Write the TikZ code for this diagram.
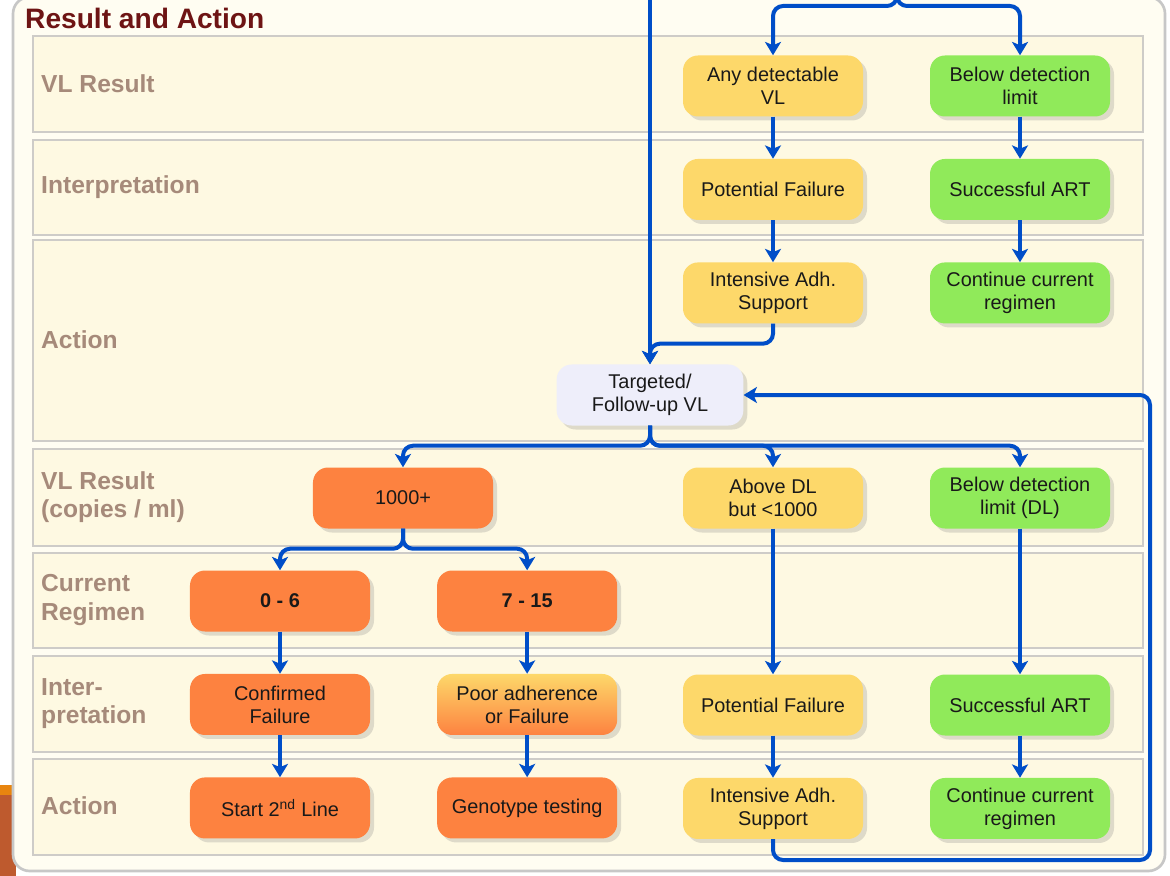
\documentclass[tikz,border=0pt]{standalone}
\usepackage{fontspec}
\setmainfont{Liberation Sans}
\usepackage{xcolor}
\usetikzlibrary{arrows.meta, positioning, shadows}

\definecolor{panelbg}{RGB}{255,253,242}
\definecolor{bandbg}{RGB}{254,249,226}
\definecolor{bandline}{RGB}{206,204,200}
\definecolor{titlered}{RGB}{110,20,20}
\definecolor{labelbrown}{RGB}{166,138,122}
\definecolor{flowblue}{RGB}{0,78,200}
\definecolor{boxyellow}{RGB}{253,216,106}
\definecolor{boxgreen}{RGB}{144,234,90}
\definecolor{boxorange}{RGB}{253,130,64}
\definecolor{boxlilac}{RGB}{238,238,250}
\definecolor{slideorange}{RGB}{232,133,15}
\definecolor{slidebrown}{RGB}{190,90,46}

\begin{document}
\begin{tikzpicture}[
    x=0.03cm, y=-0.03cm,
    node distance=1.26cm and 2cm,
    box/.style={rectangle, rounded corners=0.45cm, minimum width=5.4cm, minimum height=1.83cm, align=center, text=black!90, font=\fontsize{17}{19.5}\selectfont, drop shadow={opacity=0.25, shadow xshift=0.12cm, shadow yshift=-0.12cm}},
    warnbox/.style={box, fill=boxyellow},
    okbox/.style={box, fill=boxgreen},
    failbox/.style={box, fill=boxorange},
    mixbox/.style={box, top color=boxyellow, middle color=boxyellow!80!boxorange, bottom color=boxorange},
    querybox/.style={box, fill=boxlilac, minimum width=5.6cm},
    band/.style={draw=bandline, line width=0.05cm, fill=bandbg},
    rowlabel/.style={anchor=west, inner sep=0pt, align=left, text=labelbrown, font=\fontsize{21}{24}\selectfont\bfseries},
    line/.style={draw=flowblue, line width=0.12cm, rounded corners=0.3cm, -{Stealth[length=0.4cm, width=0.48cm, inset=0.1cm]}}
]
    \useasboundingbox (0,0) rectangle (1170,876);
    \clip (0,0) rectangle (1170,876);

    % slide background and panel
    \fill[slideorange] (0,785) rectangle (16,795);
    \fill[slidebrown] (0,795) rectangle (16,876);
    \draw[draw=black!22, line width=0.08cm, fill=panelbg, rounded corners=0.5cm] (13,-3) rectangle (1165,871);

    % bands
    \foreach \top/\bot in {36/132, 140/235, 240/441, 449/546, 553/648, 656/752, 759/855}
        \draw[band] (33,\top) rectangle (1143,\bot);

    \node[anchor=base west, inner sep=0pt, text=titlered, font=\fontsize{24}{28}\selectfont\bfseries] (title) at (25,29) {Result and Action};

    \node[rowlabel] (lbl_result) at (41,84) {VL Result};
    \node[rowlabel] (lbl_interp) at (41,187) {Interpretation};
    \node[rowlabel] (lbl_action) at (41,340) {Action};
    \node[rowlabel] (lbl_result_b) at (41,497) {VL Result\\(copies / ml)};
    \node[rowlabel] (lbl_regimen) at (41,600) {Current\\Regimen};
    \node[rowlabel] (lbl_interp_b) at (41,704) {Inter-\\pretation};
    \node[rowlabel] (lbl_action_b) at (41,806) {Action};

    % first test
    \node[warnbox] (any_vl) at (773,86) {Any detectable\\VL};
    \node[warnbox, below=of any_vl] (pot_fail) {Potential Failure};
    \node[warnbox, below=of pot_fail] (adh_support) {Intensive Adh.\\Support};
    \node[okbox] (below_limit) at (1020,86) {Below detection\\limit};
    \node[okbox, below=of below_limit] (succ_art) {Successful ART};
    \node[okbox, below=of succ_art] (cont_regimen) {Continue current\\regimen};

    \node[querybox] (followup_vl) at (650,395) {Targeted/\\Follow-up VL};

    % follow-up test
    \node[failbox] (high_vl) at (403,498) {1000+};
    \node[warnbox] (above_dl) at (773,498) {Above DL\\but <1000};
    \node[okbox] (below_dl) at (1020,498) {Below detection\\limit (DL)};

    \node[failbox] (reg_early) at (280,601) {\textbf{0 - 6}};
    \node[failbox, right=of reg_early] (reg_late) {\textbf{7 - 15}};
    \node[failbox, below=of reg_early] (conf_fail) {Confirmed\\Failure};
    \node[mixbox, below=of reg_late] (poor_adh) {Poor adherence\\or Failure};
    \node[failbox, below=of conf_fail] (start_second) {Start 2\textsuperscript{nd} Line};
    \node[failbox, below=of poor_adh] (genotype) {Genotype testing};

    \node[warnbox] (pot_fail_b) at (773,705) {Potential Failure};
    \node[warnbox, below=of pot_fail_b] (adh_support_b) {Intensive Adh.\\Support};
    \node[okbox] (succ_art_b) at (1020,705) {Successful ART};
    \node[okbox, below=of succ_art_b] (cont_regimen_b) {Continue current\\regimen};

    \coordinate (entry_a) at (650,-5);
    \coordinate (entry_b) at (897,-8);
    \coordinate (loop_corner) at (1150,860);

    % Connectors
    \draw[line] (entry_b) -- ++(0,14) -| (any_vl.north);
    \draw[line] (entry_b) -- ++(0,14) -| (below_limit.north);
    \draw[line] (any_vl) -- (pot_fail);
    \draw[line] (pot_fail) -- (adh_support);
    \draw[line] (below_limit) -- (succ_art);
    \draw[line] (succ_art) -- (cont_regimen);
    \draw[line] (entry_a) -- (followup_vl.north);
    \draw[line] (adh_support.south) -- ++(0,20) -| (followup_vl.north);

    \draw[line] (followup_vl.south) -- ++(0,20) -| (high_vl.north);
    \draw[line] (followup_vl.south) -- ++(0,20) -| (above_dl.north);
    \draw[line] (followup_vl.south) -- ++(0,20) -| (below_dl.north);

    \draw[line] (high_vl.south) -- ++(0,20) -| (reg_early.north);
    \draw[line] (high_vl.south) -- ++(0,20) -| (reg_late.north);
    \draw[line] (reg_early) -- (conf_fail);
    \draw[line] (conf_fail) -- (start_second);
    \draw[line] (reg_late) -- (poor_adh);
    \draw[line] (poor_adh) -- (genotype);

    \draw[line] (above_dl) -- (pot_fail_b);
    \draw[line] (pot_fail_b) -- (adh_support_b);
    \draw[line] (below_dl) -- (succ_art_b);
    \draw[line] (succ_art_b) -- (cont_regimen_b);
    \draw[line] (adh_support_b.south) |- (loop_corner) |- (followup_vl.east);
\end{tikzpicture}
\end{document}
